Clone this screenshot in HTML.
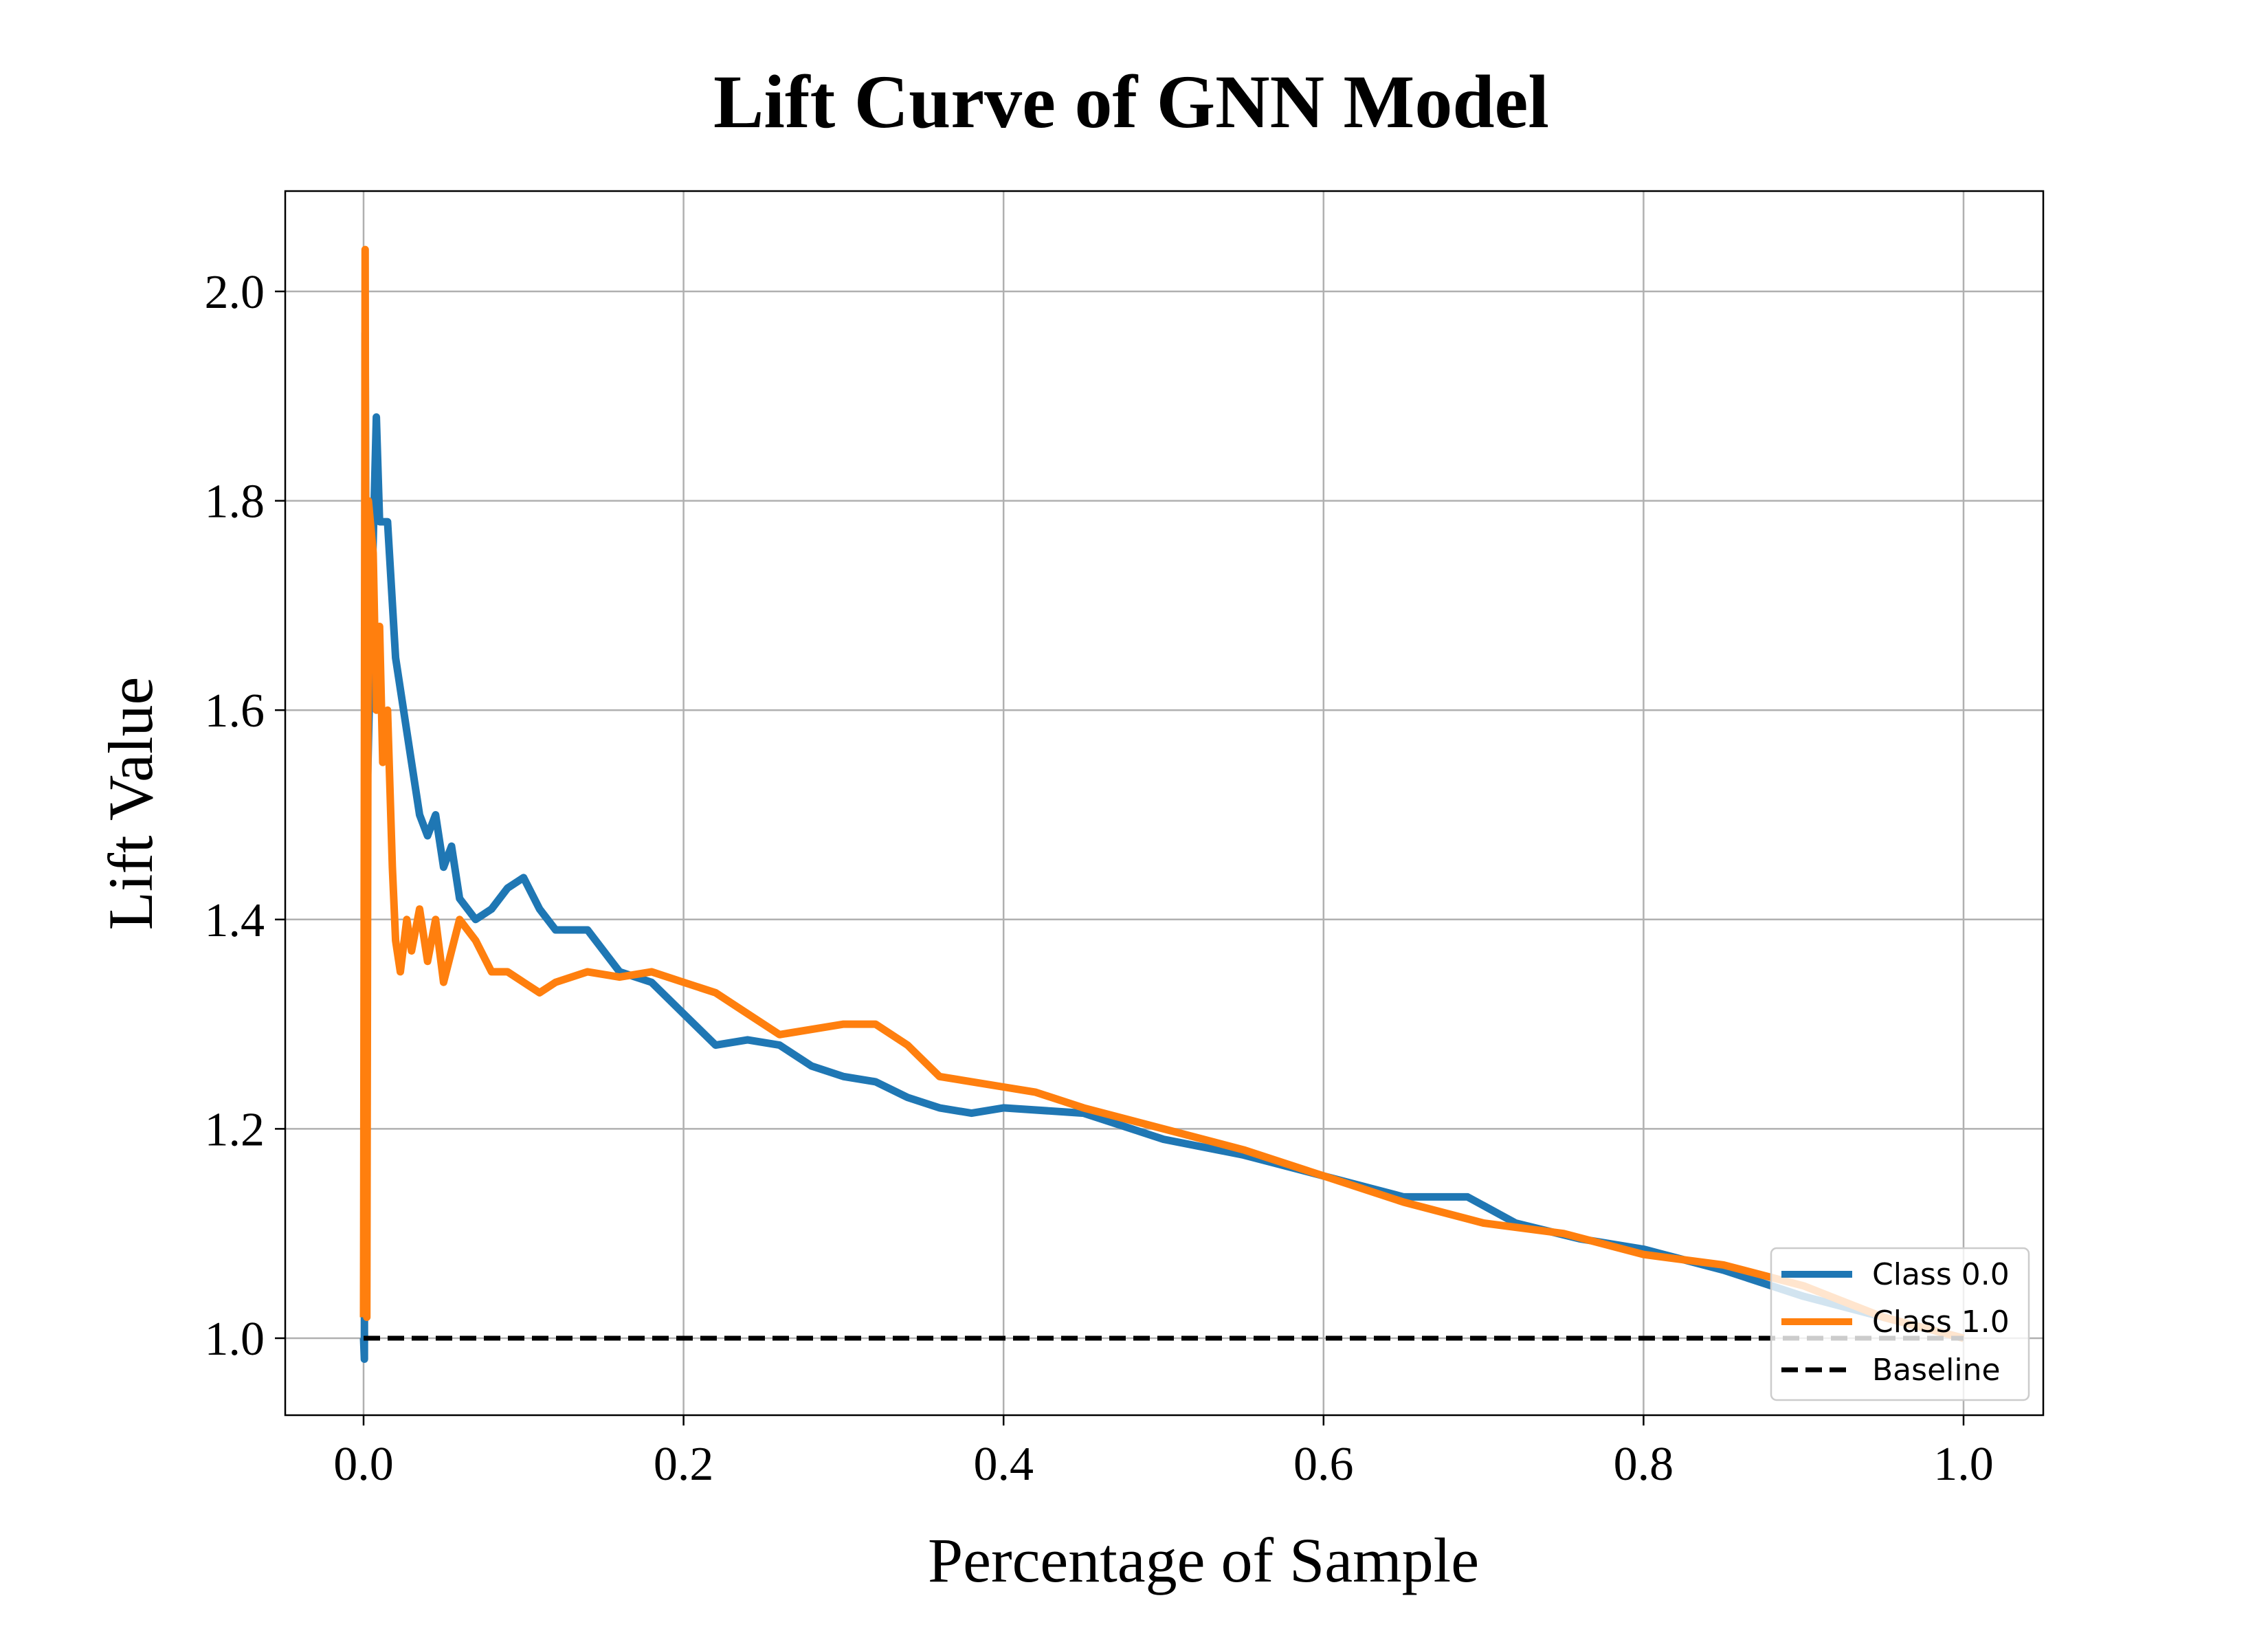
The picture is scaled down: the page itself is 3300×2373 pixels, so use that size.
<!DOCTYPE html>
<html><head><meta charset="utf-8"><style>
html,body{margin:0;padding:0;background:#fff;}
svg{display:block;}
</style></head><body>
<svg id="chart" width="3300" height="2373" viewBox="0 0 3300 2373" xmlns="http://www.w3.org/2000/svg">
<rect width="3300" height="2373" fill="#fff"/>
<text x="1646" y="185" text-anchor="middle" font-family="Liberation Serif, serif" font-weight="bold" font-size="110">Lift Curve of GNN Model</text>
<g id="grid"></g>
<g id="series"></g>
<rect x="415" y="278" width="2558" height="1781" fill="none" stroke="#000" stroke-width="2.5"/>
<g id="ticks"></g>
<text x="1751" y="2301" text-anchor="middle" font-family="Liberation Serif, serif" font-size="92">Percentage of Sample</text>
<text transform="translate(221,1169) rotate(-90)" text-anchor="middle" font-family="Liberation Serif, serif" font-size="92">Lift Value</text>
<g id="legend">
<rect x="2577" y="1816" width="375" height="221" rx="8" fill="#fff" fill-opacity="0.8" stroke="#ccc" stroke-width="2.5"/>
<line x1="2592" y1="1854" x2="2695" y2="1854" stroke="#1f77b4" stroke-width="10"/>
<text x="2724" y="1869" font-family="DejaVu Sans, sans-serif" font-size="44">Class 0.0</text>
<line x1="2592" y1="1923" x2="2695" y2="1923" stroke="#ff7f0e" stroke-width="10"/>
<text x="2724" y="1938" font-family="DejaVu Sans, sans-serif" font-size="44">Class 1.0</text>
<line x1="2592" y1="1993" x2="2695" y2="1993" stroke="#000" stroke-width="7" stroke-dasharray="24,11"/>
<text x="2724" y="2008" font-family="DejaVu Sans, sans-serif" font-size="44">Baseline</text>
</g>
</svg>
<script>
const xTicks = [0, 0.2, 0.4, 0.6, 0.8, 1.0];
const xTickLabels = ["0.0","0.2","0.4","0.6","0.8","1.0"];
const yTicks = [1.0, 1.2, 1.4, 1.6, 1.8, 2.0];
const yTickLabels = ["1.0","1.2","1.4","1.6","1.8","2.0"];
const class0X = [0,0.0005,0.001,0.002,0.005,0.008,0.01,0.015,0.02,0.025,0.03,0.035,0.04,0.045,0.05,0.055,0.06,0.07,0.08,0.09,0.1,0.11,0.12,0.14,0.16,0.18,0.2,0.22,0.24,0.26,0.28,0.3,0.32,0.34,0.36,0.38,0.4,0.45,0.5,0.55,0.6,0.65,0.69,0.72,0.76,0.8,0.85,0.9,0.95,1.0];
const class0Y = [1.0,0.98,1.96,1.5,1.7,1.88,1.78,1.78,1.65,1.6,1.55,1.5,1.48,1.5,1.45,1.47,1.42,1.4,1.41,1.43,1.44,1.41,1.39,1.39,1.35,1.34,1.31,1.28,1.285,1.28,1.26,1.25,1.245,1.23,1.22,1.215,1.22,1.215,1.19,1.175,1.155,1.135,1.135,1.11,1.095,1.085,1.065,1.04,1.02,1.0];
const class1X = [0,0.001,0.002,0.003,0.006,0.008,0.01,0.012,0.015,0.018,0.02,0.023,0.027,0.03,0.035,0.04,0.045,0.05,0.055,0.06,0.07,0.08,0.09,0.1,0.11,0.12,0.14,0.16,0.18,0.2,0.22,0.24,0.26,0.28,0.3,0.32,0.34,0.36,0.4,0.42,0.45,0.5,0.55,0.6,0.65,0.7,0.75,0.8,0.85,0.9,0.95,1.0];
const class1Y = [1.02,2.04,1.02,1.8,1.75,1.6,1.68,1.55,1.6,1.45,1.38,1.35,1.4,1.37,1.41,1.36,1.4,1.34,1.37,1.4,1.38,1.35,1.35,1.34,1.33,1.34,1.35,1.345,1.35,1.34,1.33,1.31,1.29,1.295,1.3,1.3,1.28,1.25,1.24,1.235,1.22,1.2,1.18,1.155,1.13,1.11,1.1,1.08,1.07,1.05,1.02,1.0];
const baselineY = 1.0;

const NS = "http://www.w3.org/2000/svg";
const px = v => 529 + v * (2857 - 529);
const py = v => 1947 - (v - 1.0) * (1947 - 424);
const grid = document.getElementById('grid');
const ticks = document.getElementById('ticks');
function mk(tag, attrs, parent){const e=document.createElementNS(NS,tag);for(const k in attrs)e.setAttribute(k,attrs[k]);parent.appendChild(e);return e;}
xTicks.forEach((t,i)=>{
  const g = mk('line',{x1:px(t),x2:px(t),y1:278,y2:2059,stroke:'#b0b0b0','stroke-width':2.5},grid);
  
  
  const tk = mk('line',{x1:px(t),x2:px(t),y1:2059,y2:2074,stroke:'#000','stroke-width':2.5},ticks);
  
  
  const tx = mk('text',{x:px(t),y:2153,'text-anchor':'middle','font-family':'Liberation Serif, serif','font-size':70},ticks);
  tx.textContent = xTickLabels[i];
  
  
});
yTicks.forEach((t,i)=>{
  const g = mk('line',{x1:415,x2:2973,y1:py(t),y2:py(t),stroke:'#b0b0b0','stroke-width':2.5},grid);
  
  
  const tk = mk('line',{x1:400,x2:415,y1:py(t),y2:py(t),stroke:'#000','stroke-width':2.5},ticks);
  
  
  const tx = mk('text',{x:385,y:py(t)+24,'text-anchor':'end','font-family':'Liberation Serif, serif','font-size':70},ticks);
  tx.textContent = yTickLabels[i];
  
  
});
const series = document.getElementById('series');
function line(xs, ys, color, name){
  const d = xs.map((x,i)=>(i?'L':'M')+px(x).toFixed(1)+','+py(ys[i]).toFixed(1)).join(' ');
  const p = mk('path',{d:d,fill:'none',stroke:color,'stroke-width':11,'stroke-linejoin':'round'},series);
  
  
}
line(class0X, class0Y, '#1f77b4', 'class-0-line');
line(class1X, class1Y, '#ff7f0e', 'class-1-line');
const b = mk('line',{x1:px(0),x2:px(1),y1:py(baselineY),y2:py(baselineY),stroke:'#000','stroke-width':7,'stroke-dasharray':'24,11'},series);


</script>
</body></html>
